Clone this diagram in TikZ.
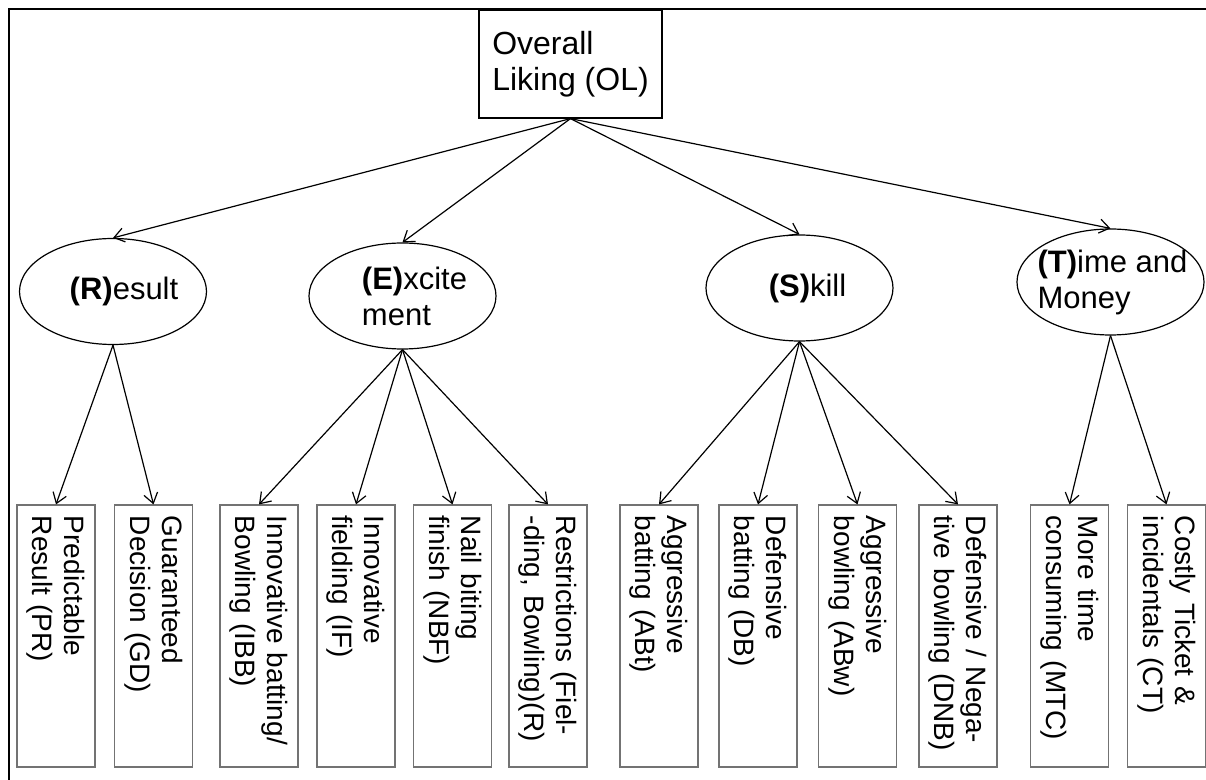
\documentclass[tikz,border=0pt]{standalone}
\usepackage{fontspec}
\setmainfont{Liberation Sans}
\usetikzlibrary{shapes.geometric,arrows.meta}

\tikzset{
  olbox/.style={draw, line width=0.6pt, minimum width=91.5pt, minimum height=54pt, align=left, font=\fontsize{16}{18}\selectfont},
  cat/.style={draw, ellipse, line width=0.6pt, minimum width=93.5pt, minimum height=53pt, inner sep=0pt},
  cattxt/.style={align=left, inner sep=0pt, font=\fontsize{15.5}{18}\selectfont},
  leaf/.style={draw=black!55, line width=0.6pt, rotate=-90, minimum width=131pt, minimum height=39pt, text width=120pt, inner xsep=5.5pt, inner ysep=0pt, align=left, font=\fontsize{14}{16}\selectfont},
  link/.style={-{Straight Barb[length=5pt,width=7pt]}, line width=0.6pt}
}

\begin{document}
\begin{tikzpicture}[x=0.5pt,y=0.5pt]
  \useasboundingbox (0,0) rectangle (1206,-780);
  \draw[line width=1pt] (9,-780) -- (9,-9) -- (1206,-9);

  \node[olbox] (ol) at (570.5,-64) {Overall\\Liking (OL)};

  % categories
  \node[cat, label={[cattxt,xshift=5.5pt]center:{\textbf{(R)}esult}}] (res) at (113,-291.5) {};
  \node[cat, label={[cattxt,xshift=6pt]center:{\textbf{(E)}xcite\\ment}}] (exc) at (402.5,-296) {};
  \node[cat, label={[cattxt,xshift=4pt]center:{\textbf{(S)}kill}}] (ski) at (799.5,-288) {};
  \node[cat, label={[cattxt,xshift=1pt]center:{\textbf{(T)}ime and\\Money}}] (tim) at (1110.5,-282) {};

  % attributes
  \node[leaf] (pr)  at (56,-636)     {Predictable\\Result (PR)};
  \node[leaf] (gd)  at (153.5,-636)  {Guaranteed\\Decision (GD)};
  \node[leaf] (ibb) at (259,-636)    {Innovative batting/\\Bowling (IBB)};
  \node[leaf] (if)  at (356,-636)    {Innovative\\fielding (IF)};
  \node[leaf] (nbf) at (452.5,-636)  {Nail biting\\finish (NBF)};
  \node[leaf] (rr)  at (548,-636)    {Restrictions (Fiel-\\-ding, Bowling)(R)};
  \node[leaf] (abt) at (659,-636)    {Aggressive\\batting (ABt)};
  \node[leaf] (db)  at (758,-636)    {Defensive\\batting (DB)};
  \node[leaf] (abw) at (857.5,-636)  {Aggressive\\bowling (ABw)};
  \node[leaf] (dnb) at (958,-636)    {Defensive / Nega-\\tive bowling (DNB)};
  \node[leaf] (mtc) at (1069.5,-636) {More time\\consuming (MTC)};
  \node[leaf] (ct)  at (1166.5,-636) {Costly Ticket \&\\incidentals (CT)};

  \draw[link] (ol.south) -- (res.north);
  \draw[link] (ol.south) -- (exc.north);
  \draw[link] (ol.south) -- (ski.north);
  \draw[link] (ol.south) -- (tim.north);

  \draw[link] (res.south) -- (pr.west);
  \draw[link] (res.south) -- (gd.west);
  \draw[link] (exc.south) -- (ibb.west);
  \draw[link] (exc.south) -- (if.west);
  \draw[link] (exc.south) -- (nbf.west);
  \draw[link] (exc.south) -- (rr.west);
  \draw[link] (ski.south) -- (abt.west);
  \draw[link] (ski.south) -- (db.west);
  \draw[link] (ski.south) -- (abw.west);
  \draw[link] (ski.south) -- (dnb.west);
  \draw[link] (tim.south) -- (mtc.west);
  \draw[link] (tim.south) -- (ct.west);
\end{tikzpicture}
\end{document}
